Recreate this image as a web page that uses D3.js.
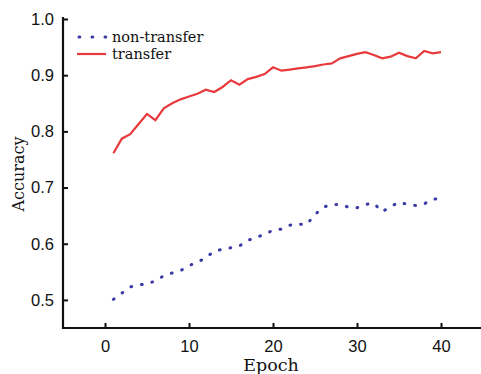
<!DOCTYPE html>
<html>
<head>
<meta charset="utf-8">
<script src="https://cdn.jsdelivr.net/npm/d3@7"></script>
<style>
  body { margin: 0; background: #fff; }
  svg { display: block; font-family: "DejaVu Serif", serif; }
  .tick text { font-size: 16.5px; fill: #111; }
  .tick line { stroke: #111; stroke-width: 2; }
</style>
</head>
<body>
<div id="chart"></div>
<script>
const epochs = d3.range(1, 41);
const transfer = [0.761, 0.787, 0.795, 0.813, 0.831, 0.820, 0.841, 0.850, 0.857, 0.862,
                  0.867, 0.874, 0.870, 0.879, 0.891, 0.883, 0.893, 0.897, 0.902, 0.914,
                  0.908, 0.910, 0.912, 0.914, 0.916, 0.919, 0.921, 0.930, 0.934, 0.938,
                  0.941, 0.936, 0.930, 0.933, 0.940, 0.934, 0.930, 0.943, 0.939, 0.941];
const nonTransfer = [0.501, 0.512, 0.523, 0.527, 0.528, 0.534, 0.543, 0.548, 0.552, 0.561,
                     0.567, 0.575, 0.587, 0.590, 0.593, 0.596, 0.606, 0.611, 0.617, 0.624,
                     0.626, 0.633, 0.635, 0.634, 0.652, 0.665, 0.670, 0.670, 0.665, 0.664,
                     0.670, 0.672, 0.657, 0.666, 0.674, 0.670, 0.668, 0.671, 0.679, 0.681];
const xTicks = [0, 10, 20, 30, 40];
const yTicks = [0.5, 0.6, 0.7, 0.8, 0.9, 1.0];

const width = 481, height = 374;
const svg = d3.select('#chart').append('svg')
    .attr('width', width)
    .attr('height', height);

const x = d3.scaleLinear().domain([-5, 45]).range([63, 483]);
const y = d3.scaleLinear().domain([0.45, 1.0]).range([328, 19]);

// axes
svg.append('g')
    .attr('transform', 'translate(63,0)')
    .call(d3.axisLeft(y).tickValues(yTicks).tickFormat(d3.format('.1f')).tickSizeInner(-5).tickSizeOuter(0).tickPadding(9))
    .call(g => g.select('.domain').remove());

svg.append('g')
    .attr('transform', 'translate(0,328)')
    .call(d3.axisBottom(x).tickValues(xTicks).tickSizeInner(-5).tickSizeOuter(0).tickPadding(12))
    .call(g => g.select('.domain').remove());

svg.append('path')
    .attr('d', `M63,17V328H481`)
    .attr('fill', 'none')
    .attr('stroke', '#111')
    .attr('stroke-width', 2.2);

// axis titles
svg.append('text')
    .attr('transform', 'translate(24,174) rotate(-90)')
    .attr('text-anchor', 'middle')
    .attr('font-size', 16)
    .attr('fill', '#111')
    .text('Accuracy');

svg.append('text')
    .attr('x', 271)
    .attr('y', 371)
    .attr('text-anchor', 'middle')
    .attr('font-size', 17.5)
    .attr('fill', '#111')
    .text('Epoch');

// lines
const line = d3.line().x((d, i) => x(epochs[i])).y(d => y(d));

svg.append('path')
    .attr('d', line(nonTransfer))
    .attr('fill', 'none')
    .attr('stroke', '#3b3ba3')
    .attr('stroke-width', 3)
    .attr('stroke-linecap', 'round')
    .attr('stroke-dasharray', '0.8,10');

svg.append('path')
    .attr('d', line(transfer))
    .attr('fill', 'none')
    .attr('stroke', '#e83a3c')
    .attr('stroke-width', 2.2);

// legend
const legend = svg.append('g');
legend.append('line')
    .attr('x1', 79).attr('x2', 106).attr('y1', 37).attr('y2', 37)
    .attr('stroke', '#3b3ba3')
    .attr('stroke-width', 3)
    .attr('stroke-linecap', 'round')
    .attr('stroke-dasharray', '0.8,12.2');
legend.append('text')
    .attr('x', 112).attr('y', 42)
    .attr('font-size', 14.5)
    .attr('fill', '#111')
    .text('non-transfer');
legend.append('line')
    .attr('x1', 77).attr('x2', 106).attr('y1', 54).attr('y2', 54)
    .attr('stroke', '#e83a3c')
    .attr('stroke-width', 2.2);
legend.append('text')
    .attr('x', 112).attr('y', 59)
    .attr('font-size', 14.5)
    .attr('fill', '#111')
    .text('transfer');
</script>
</body>
</html>
